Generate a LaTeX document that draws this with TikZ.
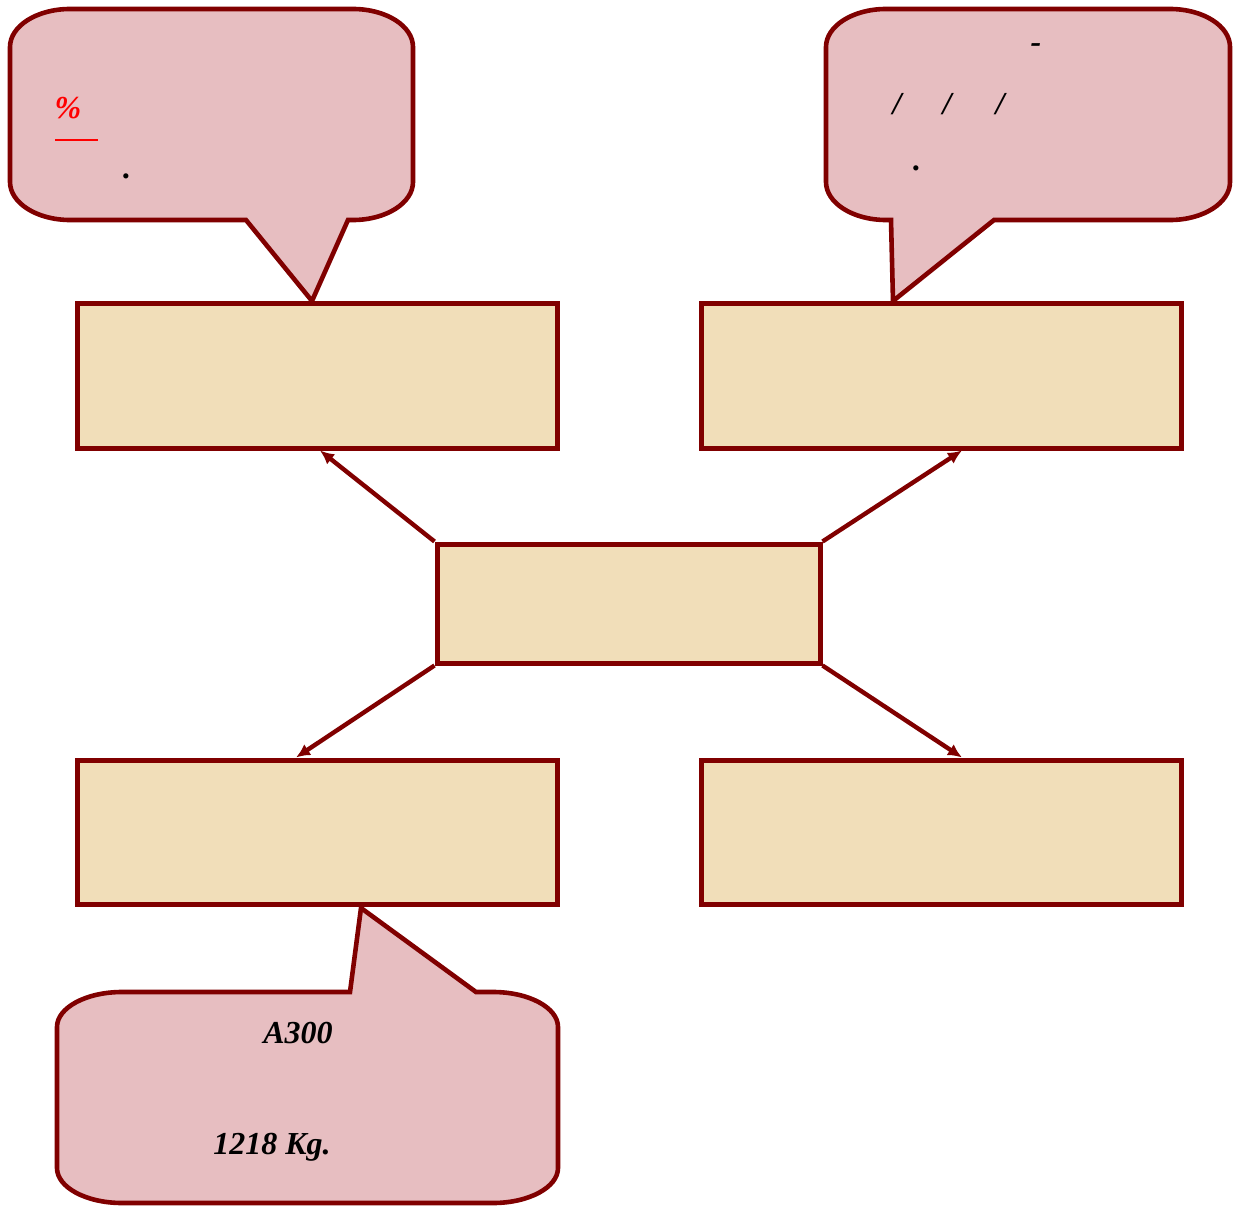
\documentclass[tikz,border=0pt]{standalone}
\usepackage{fontspec}
\setmainfont{Liberation Serif}
\usetikzlibrary{arrows.meta}

\definecolor{maroon}{HTML}{800000}
\definecolor{parch}{HTML}{F1DEB9}
\definecolor{rosy}{HTML}{E7BEC1}

\tikzset{
  box/.style={draw=maroon, line width=2.5pt, fill=parch, inner sep=0pt,
    minimum width=240pt, minimum height=72pt},
  bubble/.style={draw=maroon, line width=2.3pt, fill=rosy, line join=miter},
  link/.style={maroon, line width=2.2pt, -{Latex[length=7pt,width=6.5pt]}},
  txt/.style={font=\fontsize{16}{19}\selectfont\bfseries\itshape, inner sep=0pt}
}

\begin{document}
\begin{tikzpicture}[x=0.5pt, y=-0.5pt]
  \useasboundingbox (0,0) rectangle (1237,1209);

  % the five boxes
  \node[box] (tl) at (317,376) {};
  \node[box] (tr) at (941,376) {};
  \node[box, minimum width=191.5pt, minimum height=59.5pt] (ctr) at (628.5,603.5) {};
  \node[box] (bl) at (317,832) {};
  \node[box] (br) at (941,832) {};

  % arrows out of the middle box
  \draw[link] (ctr.north west) -- ([xshift=1.5pt]tl.south);
  \draw[link] (ctr.north east) -- ([xshift=10.5pt]tr.south);
  \draw[link] (ctr.south west) -- ([xshift=-10.5pt]bl.north);
  \draw[link] (ctr.south east) -- ([xshift=10.5pt]br.north);

  % callout over the top left box
  \filldraw[bubble] (246,220) -- (312,301) -- (348,220) -- (353,220)
    arc[start angle=90, end angle=0, x radius=60, y radius=38] -- (413,47)
    arc[start angle=0, end angle=-90, x radius=60, y radius=38] -- (70,9)
    arc[start angle=-90, end angle=-180, x radius=60, y radius=38] -- (10,182)
    arc[start angle=180, end angle=90, x radius=60, y radius=38] -- cycle;

  % callout over the top right box
  \filldraw[bubble] (994,220) -- (1170,220)
    arc[start angle=90, end angle=0, x radius=60, y radius=38] -- (1230,47)
    arc[start angle=0, end angle=-90, x radius=60, y radius=38] -- (886,9)
    arc[start angle=-90, end angle=-180, x radius=60, y radius=38] -- (826,182)
    arc[start angle=180, end angle=90, x radius=60, y radius=38] -- (891,220)
    -- (893,301) -- cycle;

  % callout under the bottom left box
  \filldraw[bubble] (350,992) -- (361,908) -- (476,992) -- (493,992)
    arc[start angle=-90, end angle=0, x radius=65, y radius=35] -- (558,1168)
    arc[start angle=0, end angle=90, x radius=65, y radius=35] -- (122,1203)
    arc[start angle=90, end angle=180, x radius=65, y radius=35] -- (57,1027)
    arc[start angle=180, end angle=270, x radius=65, y radius=35] -- cycle;

  % texts in the callouts
  \node[txt, text=red] (pct) at (68,108) {\%};
  \draw[red, line width=1pt] (55,140) -- (98,140);
  \node[txt] (dotA) at (127,176) {.};

  \node[txt] (dash) at (1036,48) {-};
  \node[txt] (slA) at (897,104) {/};
  \node[txt] (slB) at (947,104) {/};
  \node[txt] (slC) at (1000,104) {/};
  \node[txt] (dotB) at (917,168) {.};

  \node[txt] (model) at (298,1033) {A300};
  \node[txt] (mass) at (272,1147) {1218 Kg.};
\end{tikzpicture}
\end{document}
